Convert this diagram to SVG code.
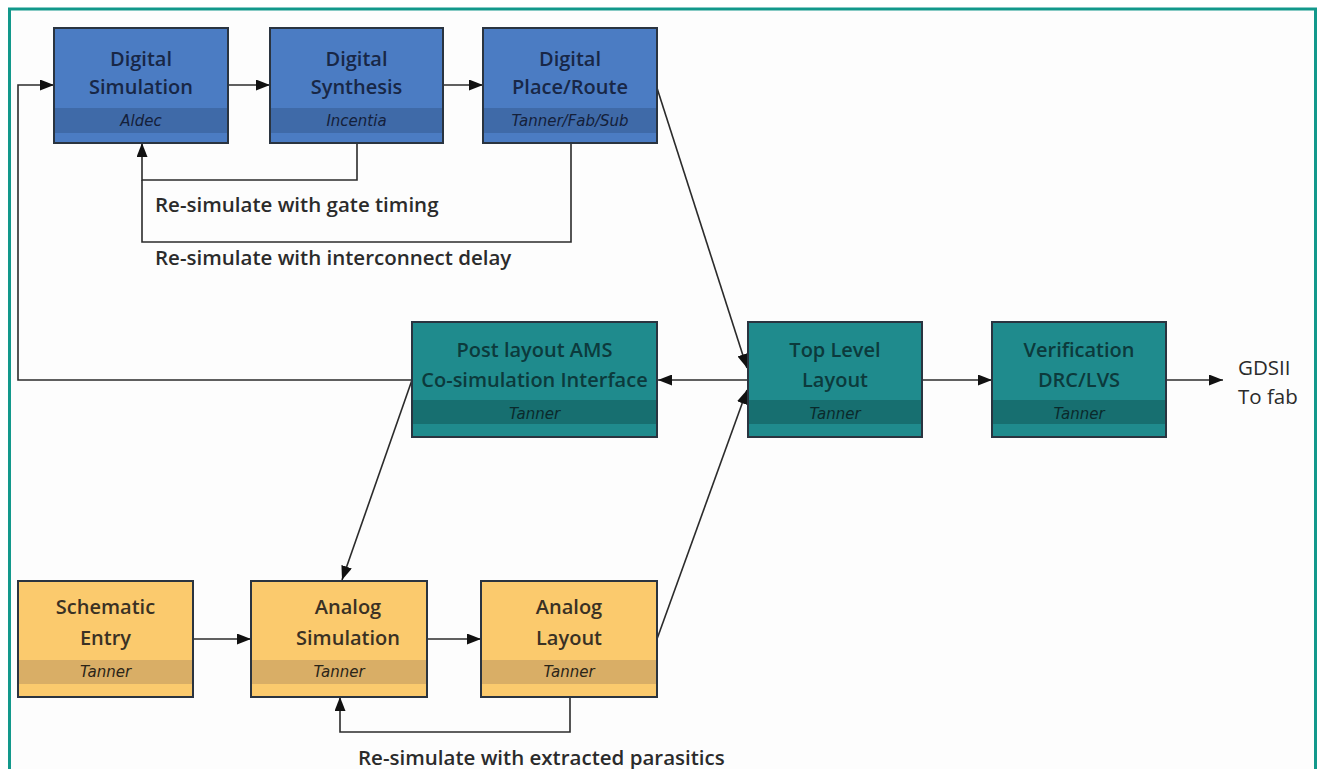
<svg xmlns="http://www.w3.org/2000/svg" width="1319" height="769" viewBox="0 0 1319 769">
<defs>
<marker id="ah" viewBox="0 0 14 11" refX="14" refY="5.5" markerWidth="14" markerHeight="11" markerUnits="userSpaceOnUse" orient="auto">
<path d="M0,0 L14,5.5 L0,11 Z" fill="#111"/>
</marker>
</defs>
<style>
.frame{fill:#fdfdfd;stroke:#12988b;stroke-width:3}
.box{stroke:#2a3440;stroke-width:2}
.t{font-family:"Open Sans","Noto Sans",sans-serif;font-weight:600;font-size:20px;text-anchor:middle}
.s{font-family:"DejaVu Sans",sans-serif;font-style:italic;font-size:15px;text-anchor:middle}
.dig .body{fill:#4b7cc3}.dig .band{fill:#3f6aa8}.dig .t{fill:#182746}.dig .s{fill:#14203a}
.tea .body{fill:#1f8b8d}.tea .band{fill:#176f70}.tea .t{fill:#0c3a3c}.tea .s{fill:#0a2a2c}
.yel .body{fill:#fbca6d}.yel .band{fill:#d9ae66}.yel .t{fill:#3a3124}.yel .s{fill:#2a2418}
.c{fill:none;stroke:#2b2b2b;stroke-width:1.6}
.lbl{font-family:"Open Sans","Noto Sans",sans-serif;font-weight:600;font-size:20.5px;fill:#2b2b2b}
.out{font-family:"Open Sans","Noto Sans",sans-serif;font-size:20.5px;fill:#2b2b2b}
</style>
<rect class="frame" x="9.5" y="9" width="1306" height="790"/>

<g id="connectors">
<path class="c" d="M412,380 H18 V85 H54" marker-end="url(#ah)"/>
<path class="c" d="M228,85 H270" marker-end="url(#ah)"/>
<path class="c" d="M443,85 H483" marker-end="url(#ah)"/>
<path class="c" d="M357,143 V180 H142 V143" marker-end="url(#ah)"/>
<path class="c" d="M571,143 V242 H142 V180"/>
<path class="c" d="M657,88 L747,368" marker-end="url(#ah)"/>
<path class="c" d="M748,380 H658" marker-end="url(#ah)"/>
<path class="c" d="M412,380 L342,580" marker-end="url(#ah)"/>
<path class="c" d="M193,639 H251" marker-end="url(#ah)"/>
<path class="c" d="M427,639 H481" marker-end="url(#ah)"/>
<path class="c" d="M570,697 V732 H340 V697" marker-end="url(#ah)"/>
<path class="c" d="M657,639 L747,390" marker-end="url(#ah)"/>
<path class="c" d="M922,380 H992" marker-end="url(#ah)"/>
<path class="c" d="M1166,380 H1223" marker-end="url(#ah)"/>
<text class="lbl" x="155" y="212">Re-simulate with gate timing</text>
<text class="lbl" x="155" y="265">Re-simulate with interconnect delay</text>
<text class="lbl" x="358" y="765">Re-simulate with extracted parasitics</text>
<text class="out" x="1238" y="375">GDSII</text>
<text class="out" x="1238" y="404">To fab</text>
</g>

<g id="digital-simulation" class="dig">
<rect class="body" x="54" y="28" width="174" height="115"/>
<rect class="band" x="54" y="108" width="174" height="25"/>
<rect class="box" x="54" y="28" width="174" height="115" fill="none"/>
<text class="t" x="141" y="66">Digital</text>
<text class="t" x="141" y="94">Simulation</text>
<text class="s" x="141" y="126">Aldec</text>
</g>
<g id="digital-synthesis" class="dig">
<rect class="body" x="270" y="28" width="173" height="115"/>
<rect class="band" x="270" y="108" width="173" height="25"/>
<rect class="box" x="270" y="28" width="173" height="115" fill="none"/>
<text class="t" x="356.5" y="66">Digital</text>
<text class="t" x="356.5" y="94">Synthesis</text>
<text class="s" x="356.5" y="126">Incentia</text>
</g>
<g id="digital-place-route" class="dig">
<rect class="body" x="483" y="28" width="174" height="115"/>
<rect class="band" x="483" y="108" width="174" height="25"/>
<rect class="box" x="483" y="28" width="174" height="115" fill="none"/>
<text class="t" x="570" y="66">Digital</text>
<text class="t" x="570" y="94">Place/Route</text>
<text class="s" x="570" y="126">Tanner/Fab/Sub</text>
</g>

<g id="post-layout" class="tea">
<rect class="body" x="412" y="322" width="245" height="115"/>
<rect class="band" x="412" y="400" width="245" height="24"/>
<rect class="box" x="412" y="322" width="245" height="115" fill="none"/>
<text class="t" x="534.5" y="357">Post layout AMS</text>
<text class="t" x="534.5" y="387">Co-simulation Interface</text>
<text class="s" x="534.5" y="419">Tanner</text>
</g>
<g id="top-level-layout" class="tea">
<rect class="body" x="748" y="322" width="174" height="115"/>
<rect class="band" x="748" y="400" width="174" height="24"/>
<rect class="box" x="748" y="322" width="174" height="115" fill="none"/>
<text class="t" x="835" y="357">Top Level</text>
<text class="t" x="835" y="387">Layout</text>
<text class="s" x="835" y="419">Tanner</text>
</g>
<g id="verification" class="tea">
<rect class="body" x="992" y="322" width="174" height="115"/>
<rect class="band" x="992" y="400" width="174" height="24"/>
<rect class="box" x="992" y="322" width="174" height="115" fill="none"/>
<text class="t" x="1079" y="357">Verification</text>
<text class="t" x="1079" y="387">DRC/LVS</text>
<text class="s" x="1079" y="419">Tanner</text>
</g>

<g id="schematic-entry" class="yel">
<rect class="body" x="18" y="581" width="175" height="116"/>
<rect class="band" x="18" y="660" width="175" height="24"/>
<rect class="box" x="18" y="581" width="175" height="116" fill="none"/>
<text class="t" x="105.5" y="614">Schematic</text>
<text class="t" x="105.5" y="645">Entry</text>
<text class="s" x="105.5" y="677">Tanner</text>
</g>
<g id="analog-simulation" class="yel">
<rect class="body" x="251" y="581" width="176" height="116"/>
<rect class="band" x="251" y="660" width="176" height="24"/>
<rect class="box" x="251" y="581" width="176" height="116" fill="none"/>
<text class="t" x="348" y="614">Analog</text>
<text class="t" x="348" y="645">Simulation</text>
<text class="s" x="339" y="677">Tanner</text>
</g>
<g id="analog-layout" class="yel">
<rect class="body" x="481" y="581" width="176" height="116"/>
<rect class="band" x="481" y="660" width="176" height="24"/>
<rect class="box" x="481" y="581" width="176" height="116" fill="none"/>
<text class="t" x="569" y="614">Analog</text>
<text class="t" x="569" y="645">Layout</text>
<text class="s" x="569" y="677">Tanner</text>
</g>
</svg>
